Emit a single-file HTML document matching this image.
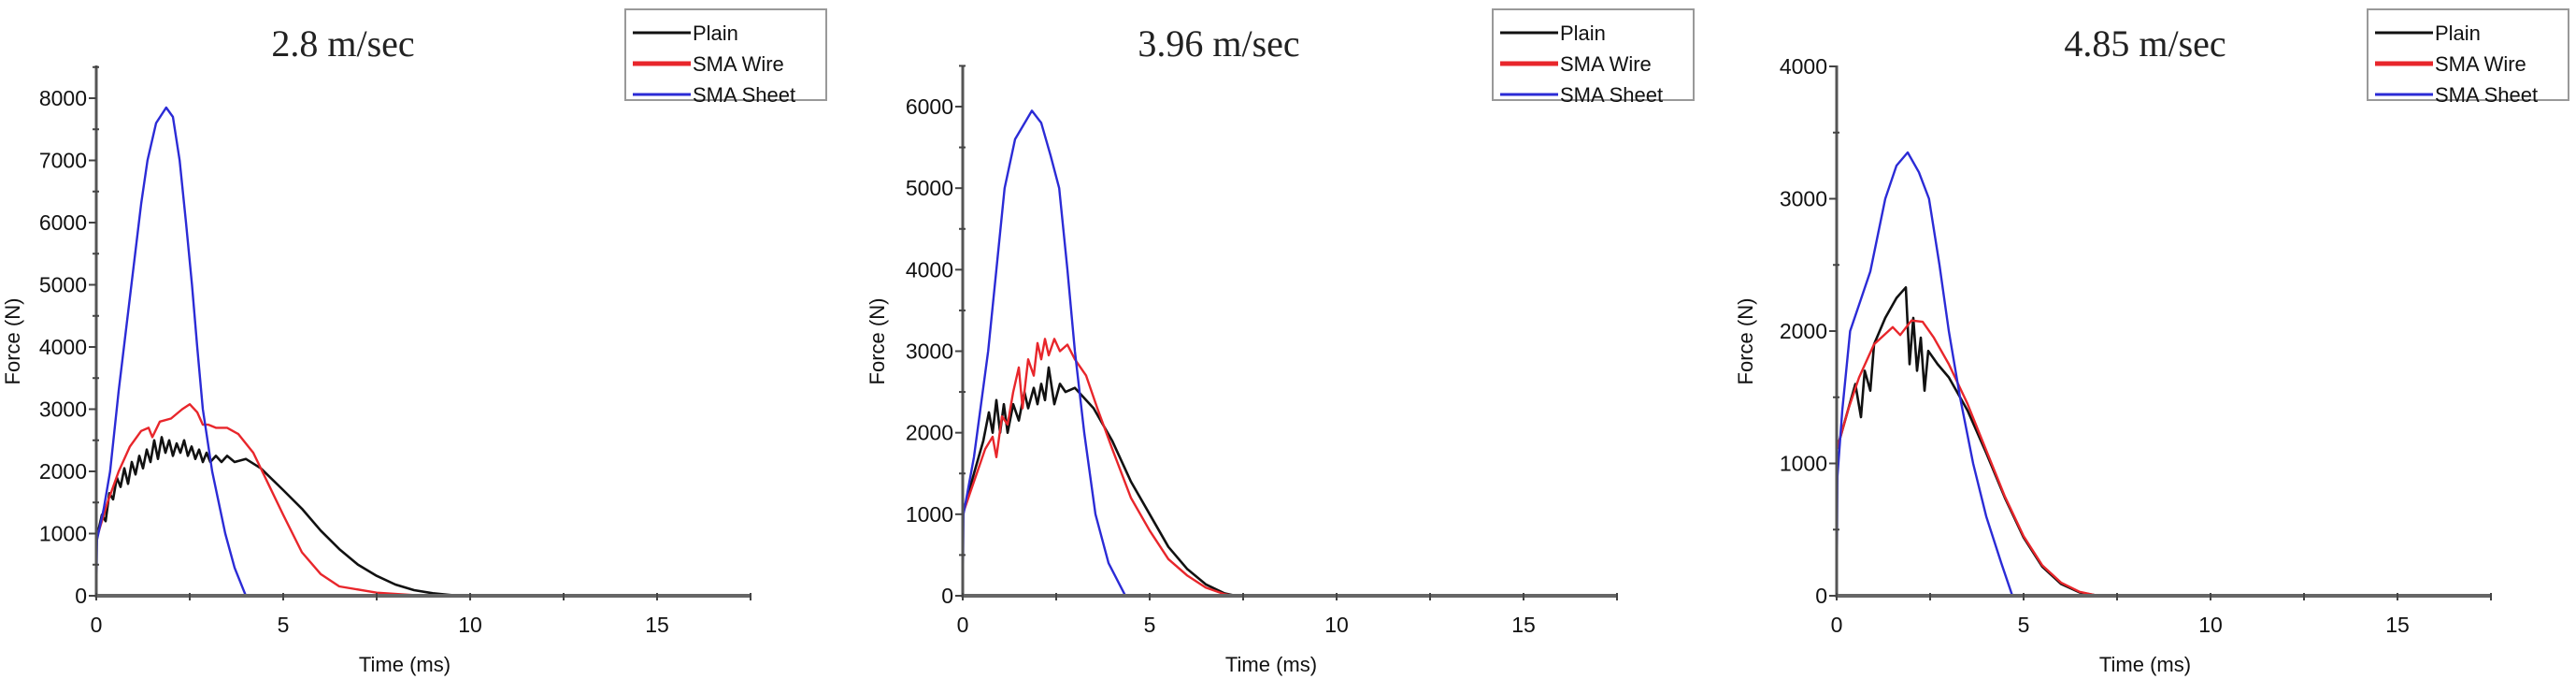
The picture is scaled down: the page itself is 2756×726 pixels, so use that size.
<!DOCTYPE html>
<html><head><meta charset="utf-8">
<style>
html,body{margin:0;padding:0;background:#fff;}
svg{display:block;}
</style></head>
<body>
<svg id="chart" width="2756" height="726" viewBox="0 0 2756 726" xmlns="http://www.w3.org/2000/svg"></svg>
<script>
const xTicks = [0, 5, 10, 15];
const xTickLabels = ["0", "5", "10", "15"];
const titles = ["2.8 m/sec", "3.96 m/sec", "4.85 m/sec"];
const yMaxes = [8000, 6000, 4000];
const yTickSets = [[0,1000,2000,3000,4000,5000,6000,7000,8000],[0,1000,2000,3000,4000,5000,6000],[0,1000,2000,3000,4000]];
const seriesNames = ["Plain", "SMA Wire", "SMA Sheet"];

// panel 1 (2.8 m/sec)
const sheet1 = [[0,0],[0.02,900],[0.2,1400],[0.37,2000],[0.6,3300],[0.94,5000],[1.2,6300],[1.37,7000],[1.6,7600],[1.87,7850],[2.05,7700],[2.23,7000],[2.4,6000],[2.56,5000],[2.7,4000],[2.85,3000],[3.1,2000],[3.45,1000],[3.7,450],[4.0,0],[17.5,0]];
const wire1 = [[0,900],[0.3,1500],[0.6,2000],[0.9,2400],[1.2,2650],[1.4,2700],[1.5,2550],[1.7,2800],[2.0,2850],[2.3,3000],[2.5,3080],[2.7,2950],[2.85,2750],[3.0,2750],[3.2,2700],[3.5,2700],[3.8,2600],[4.2,2300],[4.6,1800],[5.0,1300],[5.5,700],[6.0,350],[6.5,150],[7.5,50],[8.5,10],[10,0],[17.5,0]];
const plain1 = [[0,900],[0.15,1300],[0.25,1200],[0.35,1650],[0.45,1550],[0.55,1900],[0.65,1750],[0.75,2050],[0.85,1800],[0.95,2150],[1.05,1950],[1.15,2250],[1.25,2050],[1.35,2350],[1.45,2150],[1.55,2500],[1.65,2200],[1.75,2550],[1.85,2300],[1.95,2500],[2.05,2250],[2.15,2450],[2.25,2300],[2.35,2500],[2.45,2250],[2.55,2400],[2.65,2200],[2.75,2350],[2.85,2150],[2.95,2300],[3.05,2150],[3.2,2250],[3.35,2150],[3.5,2250],[3.7,2150],[4.0,2200],[4.4,2050],[5.0,1700],[5.5,1400],[6.0,1050],[6.5,750],[7.0,500],[7.5,320],[8.0,180],[8.5,90],[9.0,40],[9.5,10],[10,0],[17.5,0]];

// panel 2 (3.96 m/sec)
const sheet2 = [[0,0],[0.02,1000],[0.3,1700],[0.68,3000],[1.12,5000],[1.4,5600],[1.85,5950],[2.1,5800],[2.35,5400],[2.58,5000],[2.8,4000],[3.0,3000],[3.25,2000],[3.55,1000],[3.9,400],[4.35,0],[17.5,0]];
const wire2 = [[0,1000],[0.3,1400],[0.6,1800],[0.8,1950],[0.9,1700],[1.05,2200],[1.2,2100],[1.35,2500],[1.5,2800],[1.6,2300],[1.75,2900],[1.9,2700],[2.0,3100],[2.1,2900],[2.2,3150],[2.3,2950],[2.45,3150],[2.6,3000],[2.8,3080],[3.0,2900],[3.3,2700],[3.6,2300],[4.0,1800],[4.5,1200],[5.0,800],[5.5,450],[6.0,250],[6.5,100],[7.0,20],[7.3,0],[17.5,0]];
const plain2 = [[0,1000],[0.3,1500],[0.55,1900],[0.7,2250],[0.8,2000],[0.9,2400],[1.0,2000],[1.1,2350],[1.2,2000],[1.35,2350],[1.5,2150],[1.65,2500],[1.75,2300],[1.9,2550],[2.0,2350],[2.1,2600],[2.2,2400],[2.3,2800],[2.45,2350],[2.6,2600],[2.75,2500],[3.0,2550],[3.5,2300],[4.0,1900],[4.5,1400],[5.0,1000],[5.5,600],[6.0,330],[6.5,140],[7.0,30],[7.3,0],[17.5,0]];

// panel 3 (4.85 m/sec)
const sheet3 = [[0,0],[0.02,900],[0.15,1400],[0.36,2000],[0.6,2200],[0.9,2450],[1.3,3000],[1.6,3250],[1.9,3350],[2.2,3200],[2.47,3000],[2.75,2500],[3.0,2000],[3.3,1500],[3.65,1000],[4.0,600],[4.4,250],[4.7,0],[17.5,0]];
const wire3 = [[0,1100],[0.3,1400],[0.6,1650],[1.0,1900],[1.5,2030],[1.7,1970],[2.0,2080],[2.3,2070],[2.6,1950],[3.0,1750],[3.5,1450],[4.0,1100],[4.5,750],[5.0,450],[5.5,230],[6.0,100],[6.5,30],[7.0,0],[17.5,0]];
const plain3 = [[0,1100],[0.3,1400],[0.5,1600],[0.65,1350],[0.75,1700],[0.9,1550],[1.0,1900],[1.3,2100],[1.6,2250],[1.85,2330],[1.95,1750],[2.05,2100],[2.15,1700],[2.25,1950],[2.35,1550],[2.45,1850],[2.7,1750],[3.0,1650],[3.5,1400],[4.0,1080],[4.5,740],[5.0,440],[5.5,220],[6.0,90],[6.5,25],[7.0,0],[17.5,0]];

const panelData = [[plain1, wire1, sheet1],[plain2, wire2, sheet2],[plain3, wire3, sheet3]];

const NS = "http://www.w3.org/2000/svg";
const svg = document.getElementById("chart");
function mk(tag, attrs, parent){const e=document.createElementNS(NS,tag);for(const k in attrs)e.setAttribute(k,attrs[k]);(parent||svg).appendChild(e);return e;}

const colors = ["#111111", "#e8262b", "#2b2bd6"];
const widths = [2.6, 2.4, 2.4];
const layout = [
  {x0:103, title:367, ylab:13, legend:669, ymaxPx:105},
  {x0:1030, title:1304, ylab:938, legend:1597, ymaxPx:114},
  {x0:1965, title:2295, ylab:1867, legend:2533, ymaxPx:71}
];
const Y0 = 637, YTOP = 70, PXMS = 40, XMAX = 17.5;

layout.forEach((L, p) => {
  const g = mk("g", {});
  
  
  const sx = t => L.x0 + t * PXMS;
  const ymaxVal = yMaxes[p];
  const sy = v => Y0 - v * (Y0 - L.ymaxPx) / ymaxVal;

  const t = mk("text", {x:L.title, y:60, "text-anchor":"middle", "font-family":"Liberation Serif, serif", "font-size":"40", fill:"#222"}, g);
  t.textContent = titles[p];
  
  

  panelData[p].forEach((s, i) => {
    const d = s.map((pt, j) => (j ? "L" : "M") + sx(pt[0]).toFixed(1) + " " + sy(pt[1]).toFixed(1)).join(" ");
    const path = mk("path", {d:d, fill:"none", stroke:colors[i], "stroke-width":widths[i], "stroke-linejoin":"round"}, g);
    
    
  });

  const ya = mk("line", {x1:L.x0, y1:YTOP, x2:L.x0, y2:Y0+2, stroke:"#555", "stroke-width":3}, g);
  
  
  const xa = mk("line", {x1:L.x0, y1:Y0, x2:sx(XMAX), y2:Y0, stroke:"#666", "stroke-width":4}, g);
  
  

  for (let v = 0; v <= XMAX; v += 2.5) {
    mk("line", {x1:sx(v), y1:Y0-3, x2:sx(v), y2:Y0+5, stroke:"#444", "stroke-width":2}, g);
  }
  xTicks.forEach((v, i) => {
    const tl = mk("text", {x:sx(v), y:676, "text-anchor":"middle", "font-family":"Liberation Sans, sans-serif", "font-size":"23", fill:"#111"}, g);
    tl.textContent = xTickLabels[i];
    
    
  });
  for (let v = 0; v <= ymaxVal * 1.2; v += 500) {
    if (sy(v) < YTOP - 1) break;
    const major = v % 1000 === 0;
    mk("line", {x1:L.x0 - (major?8:4), y1:sy(v), x2:L.x0 + (major?0:3), y2:sy(v), stroke:"#444", "stroke-width":2}, g);
  }
  yTickSets[p].forEach(v => {
    const tl = mk("text", {x:L.x0 - 10, y:sy(v)+8, "text-anchor":"end", "font-family":"Liberation Sans, sans-serif", "font-size":"23", fill:"#111"}, g);
    tl.textContent = String(v);
    
    
  });
  const xt = mk("text", {x:L.x0 + 330, y:718, "text-anchor":"middle", "font-family":"Liberation Sans, sans-serif", "font-size":"22", fill:"#111"}, g);
  xt.textContent = "Time (ms)";
  
  
  const yt = mk("text", {x:0, y:0, transform:"translate(" + (L.ylab + 8) + ",365) rotate(-90)", "text-anchor":"middle", "font-family":"Liberation Sans, sans-serif", "font-size":"22", fill:"#111"}, g);
  yt.textContent = "Force (N)";
  
  

  const lg = mk("g", {}, g);
  
  
  mk("rect", {x:L.legend, y:10, width:215, height:97, fill:"#fff", stroke:"#999", "stroke-width":2}, lg);
  seriesNames.forEach((n, i) => {
    const ry = 28 + i * 33;
    const ll = mk("line", {x1:L.legend + 8, y1:ry+7, x2:L.legend + 70, y2:ry+7, stroke:colors[i], "stroke-width": i===1?5:3}, lg);
    
    
    const lt = mk("text", {x:L.legend + 72, y:ry+15, "font-family":"Liberation Sans, sans-serif", "font-size":"22", fill:"#111"}, lg);
    lt.textContent = n;
    
    
  });
});
</script>
</body></html>
